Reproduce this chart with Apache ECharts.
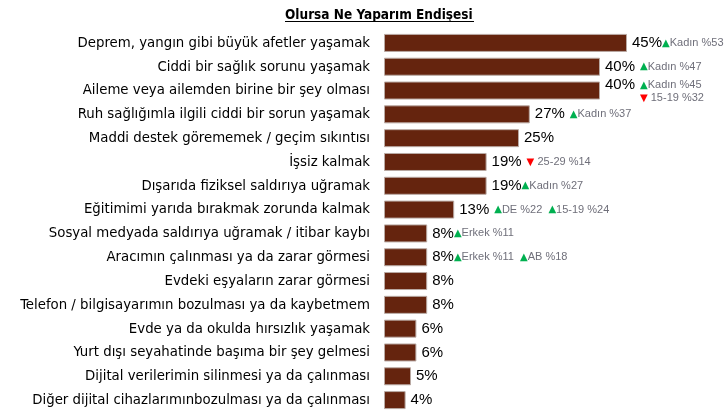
<!DOCTYPE html>
<html><head><meta charset="utf-8">
<script src="https://cdn.jsdelivr.net/npm/echarts@6/dist/echarts.min.js"></script>
<style>html,body{margin:0;padding:0;background:#fff}#c{width:728px;height:418px}</style>
</head><body><div id="c"></div>
<script>
const title = "Olursa Ne Yaparım Endişesi";
const categories = [
  "Deprem, yangın gibi büyük afetler yaşamak",
  "Ciddi bir sağlık sorunu yaşamak",
  "Aileme veya ailemden birine bir şey olması",
  "Ruh sağlığımla ilgili ciddi bir sorun yaşamak",
  "Maddi destek görememek / geçim sıkıntısı",
  "İşsiz kalmak",
  "Dışarıda fiziksel saldırıya uğramak",
  "Eğitimimi yarıda bırakmak zorunda kalmak",
  "Sosyal medyada saldırıya uğramak / itibar kaybı",
  "Aracımın çalınması ya da zarar görmesi",
  "Evdeki eşyaların zarar görmesi",
  "Telefon / bilgisayarımın bozulması ya da kaybetmem",
  "Evde ya da okulda hırsızlık yaşamak",
  "Yurt dışı seyahatinde başıma bir şey gelmesi",
  "Dijital verilerimin silinmesi ya da çalınması",
  "Diğer dijital cihazlarımınbozulması ya da çalınması"
];
const values = [45, 40, 40, 27, 25, 19, 19, 13, 8, 8, 8, 8, 6, 6, 5, 4];
// annotations: [direction, text]; up = green ▲, down = red ▼
const notes = [
  [["up", "Kadın %53"]],
  [["up", "Kadın %47"]],
  [["up", "Kadın %45"], ["down", "15-19 %32"]],
  [["up", "Kadın %37"]],
  [],
  [["down", "25-29 %14"]],
  [["up", "Kadın %27"]],
  [["up", "DE %22"], ["up", "15-19 %24"]],
  [["up", "Erkek %11"]],
  [["up", "Erkek %11"], ["up", "AB %18"]],
  [], [], [], [], [], []
];

function labelText(i) {
  const v = '{v|' + values[i] + '%}';
  const n = notes[i];
  if (!n.length) return v;
  if (i === 2) {
    return v + '{s|}{g|▲}{t|' + n[0][1] + '}\n{sp|}{r|▼}{t| ' + n[1][1] + '}';
  }
  const lead = (i === 1 || i === 3 || i === 5 || i === 7) ? '{s|}' : '';
  const parts = n.map(a => (a[0] === 'up' ? '{g|▲}' : '{r|▼ }') + '{t|' + a[1] + '}');
  return v + lead + parts.join('{t|  }');
}

const chart = echarts.init(document.getElementById('c'));
chart.setOption({
  animation: false,
  backgroundColor: '#ffffff',
  title: {
    text: title, left: 280, top: 3,
    textStyle: { fontFamily: 'DejaVu Sans Condensed, DejaVu Sans, sans-serif', fontSize: 13.5, fontWeight: 'bold', color: '#000' }
  },
  graphic: [{ type: 'line', shape: { x1: 285, y1: 21.5, x2: 474, y2: 21.5 }, style: { stroke: '#000', lineWidth: 1 } }],
  grid: { left: 384, top: 31, width: 324, bottom: 6, containLabel: false },
  xAxis: { type: 'value', min: 0, max: 60, show: false },
  yAxis: {
    type: 'category', data: categories, inverse: true,
    axisLine: { show: false }, axisTick: { show: false },
    axisLabel: { margin: 14, color: '#000', fontSize: 14.8, fontFamily: 'DejaVu Sans Condensed, DejaVu Sans, sans-serif' }
  },
  series: [{
    type: 'bar', data: values, barWidth: 18,
    itemStyle: { color: '#65240E', borderColor: '#b9a9a3', borderWidth: 1 },
    label: {
      show: true, position: 'right', distance: 5,
      formatter: p => labelText(p.dataIndex),
      rich: {
        v: { fontSize: 15, color: '#000', fontFamily: 'Liberation Sans, sans-serif' },
        s: { width: 5 },
        g: { fontSize: 10, color: '#00B050', fontFamily: 'DejaVu Sans, sans-serif' },
        r: { fontSize: 10, color: '#FF0000', fontFamily: 'DejaVu Sans, sans-serif' },
        t: { fontSize: 11, color: '#6f6f7a', fontFamily: 'Liberation Sans, Arial, sans-serif' },
        sp: { width: 35, fontSize: 11 }
      }
    }
  }]
});
</script></body></html>
